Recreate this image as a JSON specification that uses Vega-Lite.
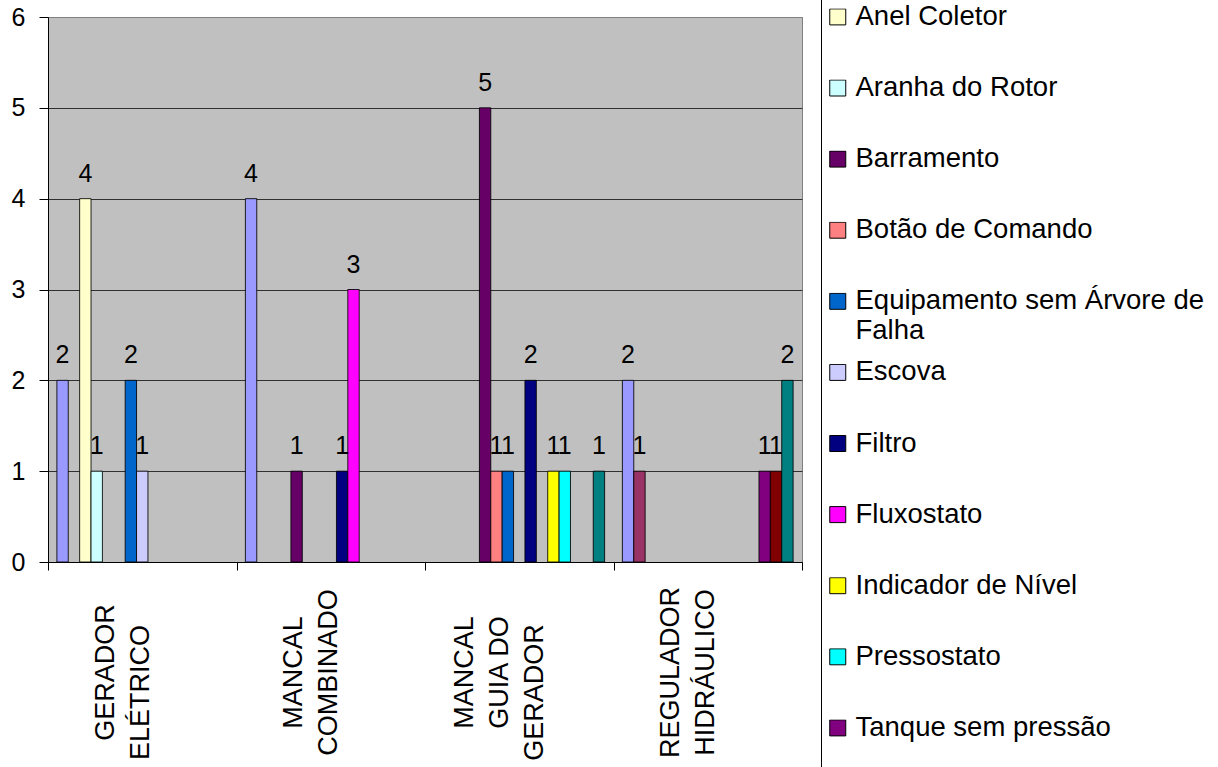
{
  "$schema": "https://vega.github.io/schema/vega-lite/v6.json",
  "width": 754,
  "height": 545,
  "autosize": {"type": "none"},
  "padding": {"left": 48, "top": 17, "right": 416, "bottom": 205},
  "background": "white",
  "config": {
    "font": "Liberation Sans",
    "view": {"fill": "#C0C0C0", "stroke": "#808080", "strokeWidth": 1}
  },
  "data": {
    "values": [
      {"equipamento": "GERADOR ELÉTRICO", "componente": "Acessório", "falhas": 2},
      {"equipamento": "GERADOR ELÉTRICO", "componente": "Anel Coletor", "falhas": 4},
      {"equipamento": "GERADOR ELÉTRICO", "componente": "Aranha do Rotor", "falhas": 1},
      {"equipamento": "GERADOR ELÉTRICO", "componente": "Equipamento sem Árvore de Falha", "falhas": 2},
      {"equipamento": "GERADOR ELÉTRICO", "componente": "Escova", "falhas": 1},
      {"equipamento": "MANCAL COMBINADO", "componente": "Acessório", "falhas": 4},
      {"equipamento": "MANCAL COMBINADO", "componente": "Barramento", "falhas": 1},
      {"equipamento": "MANCAL COMBINADO", "componente": "Filtro", "falhas": 1},
      {"equipamento": "MANCAL COMBINADO", "componente": "Fluxostato", "falhas": 3},
      {"equipamento": "MANCAL GUIA DO GERADOR", "componente": "Barramento", "falhas": 5},
      {"equipamento": "MANCAL GUIA DO GERADOR", "componente": "Botão de Comando", "falhas": 1},
      {"equipamento": "MANCAL GUIA DO GERADOR", "componente": "Equipamento sem Árvore de Falha", "falhas": 1},
      {"equipamento": "MANCAL GUIA DO GERADOR", "componente": "Filtro", "falhas": 2},
      {"equipamento": "MANCAL GUIA DO GERADOR", "componente": "Indicador de Nível", "falhas": 1},
      {"equipamento": "MANCAL GUIA DO GERADOR", "componente": "Pressostato", "falhas": 1},
      {"equipamento": "MANCAL GUIA DO GERADOR", "componente": "Trocador de Calor", "falhas": 1},
      {"equipamento": "REGULADOR HIDRÁULICO", "componente": "Acessório", "falhas": 2},
      {"equipamento": "REGULADOR HIDRÁULICO", "componente": "Acumulador", "falhas": 1},
      {"equipamento": "REGULADOR HIDRÁULICO", "componente": "Tanque sem pressão", "falhas": 1},
      {"equipamento": "REGULADOR HIDRÁULICO", "componente": "Termômetro", "falhas": 1},
      {"equipamento": "REGULADOR HIDRÁULICO", "componente": "Trocador de Calor", "falhas": 2}
    ]
  },
  "encoding": {
    "x": {
      "field": "equipamento",
      "type": "nominal",
      "sort": ["GERADOR ELÉTRICO", "MANCAL COMBINADO", "MANCAL GUIA DO GERADOR", "REGULADOR HIDRÁULICO"],
      "scale": {"paddingInner": 0, "paddingOuter": 0},
      "axis": {
        "title": null,
        "tickBand": "extent",
        "tickSize": 8,
        "tickColor": "black",
        "domainColor": "black",
        "labelAngle": -90,
        "labelAlign": "center",
        "labelBaseline": "middle",
        "labelPadding": 102,
        "labelOffset": {"condition": {"test": "datum.value == 'MANCAL GUIA DO GERADOR'", "value": -54.5}, "value": -37},
        "labelFontSize": 27,
        "labelColor": "black",
        "labelLineHeight": 35,
        "labelOverlap": false,
        "labelLimit": 500,
        "grid": false,
        "labelExpr": "datum.label == 'GERADOR ELÉTRICO' ? ['GERADOR', 'ELÉTRICO\u2800\u2800'] : datum.label == 'MANCAL COMBINADO' ? ['MANCAL', 'COMBINADO'] : datum.label == 'MANCAL GUIA DO GERADOR' ? ['MANCAL', 'GUIA DO', 'GERADOR\u2800\u2800'] : datum.label == 'REGULADOR HIDRÁULICO' ? ['REGULADOR', 'HIDRÁULICO'] : ''"
      }
    },
    "xOffset": {
      "field": "componente",
      "type": "nominal",
      "scale": {
        "domain": ["Acessório", "Acumulador", "Anel Coletor", "Aranha do Rotor", "Barramento", "Botão de Comando", "Equipamento sem Árvore de Falha", "Escova", "Filtro", "Fluxostato", "Indicador de Nível", "Pressostato", "Tanque sem pressão", "Termômetro", "Trocador de Calor"],
        "paddingInner": 0,
        "paddingOuter": 0.78
      }
    },
    "y": {
      "field": "falhas",
      "type": "quantitative",
      "scale": {"domain": [0, 6], "nice": false},
      "axis": {
        "title": null,
        "values": [0, 1, 2, 3, 4, 5, 6],
        "grid": true,
        "gridColor": {"condition": {"test": "datum.value == 6", "value": "#808080"}, "value": "#303030"},
        "gridOpacity": 1,
        "tickSize": 9,
        "tickColor": "black",
        "domainColor": "black",
        "labelFontSize": 25,
        "labelPadding": 14,
        "labelColor": "black",
        "labelFlush": false
      }
    }
  },
  "layer": [
    {
      "mark": {"type": "bar", "stroke": "#000000", "strokeWidth": 1, "strokeOpacity": 0.85},
      "encoding": {
        "color": {
          "field": "componente",
          "type": "nominal",
          "scale": {
            "domain": ["Acessório", "Acumulador", "Anel Coletor", "Aranha do Rotor", "Barramento", "Botão de Comando", "Equipamento sem Árvore de Falha", "Escova", "Filtro", "Fluxostato", "Indicador de Nível", "Pressostato", "Tanque sem pressão", "Termômetro", "Trocador de Calor"],
            "range": ["#9999FF", "#993366", "#FFFFCC", "#CCFFFF", "#660066", "#FF8080", "#0066CC", "#CCCCFF", "#000080", "#FF00FF", "#FFFF00", "#00FFFF", "#800080", "#800000", "#008080"]
          },
          "legend": {
            "orient": "none",
            "legendX": 773,
            "legendY": -153.8,
            "direction": "vertical",
            "title": "Componente do equipamento",
            "titleOrient": "bottom",
            "titleFontSize": 40,
            "titleLimit": 1000,
            "padding": 3,
            "strokeColor": "black",
            "fillColor": "white",
            "symbolType": "square",
            "symbolSize": 256,
            "symbolStrokeColor": "black",
            "symbolStrokeWidth": 1,
            "symbolOpacity": 1,
            "labelFontSize": 27.5,
            "labelColor": "black",
            "labelLimit": 1000,
            "labelOffset": 4,
            "rowPadding": 13.1,
            "clipHeight": 17,
            "labelExpr": "datum.label == 'Equipamento sem Árvore de Falha' ? ['Equipamento sem Árvore de', 'Falha'] : [datum.label, '']"
          }
        }
      }
    },
    {
      "mark": {"type": "text", "dy": -17, "baseline": "alphabetic", "fontSize": 25, "color": "black"},
      "encoding": {"text": {"field": "falhas", "type": "quantitative"}}
    }
  ]
}
